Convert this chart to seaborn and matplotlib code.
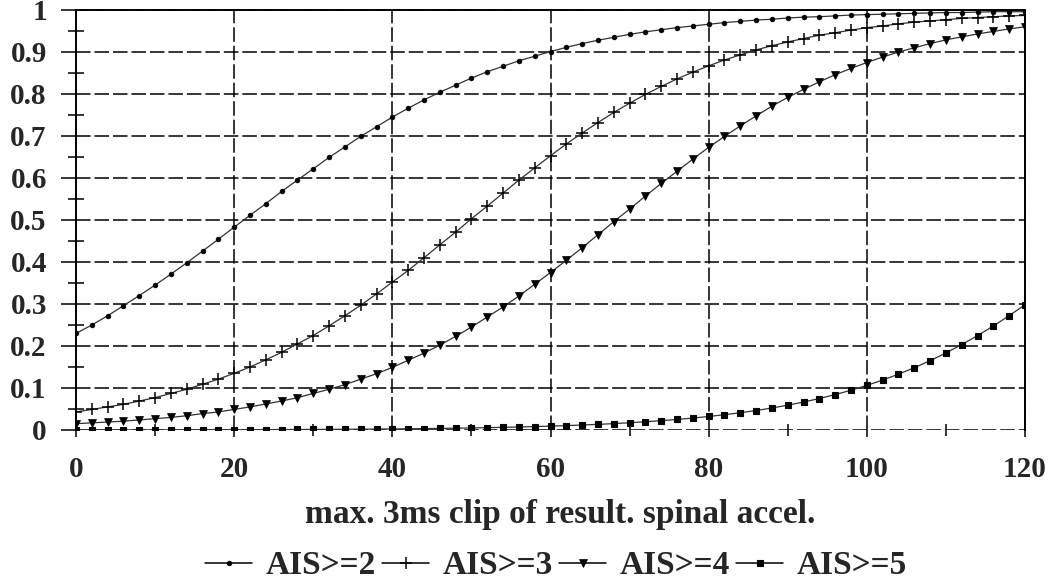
import matplotlib
matplotlib.use("Agg")
import matplotlib.pyplot as plt
import seaborn as sns
import pandas as pd
from matplotlib.ticker import MultipleLocator, FixedLocator
from matplotlib.lines import Line2D

# ---------------- data ----------------
accel = list(range(0, 121, 2))

ais2 = [0.230, 0.250, 0.272, 0.296, 0.320, 0.345, 0.371, 0.398, 0.426, 0.454,
        0.483, 0.511, 0.539, 0.568, 0.595, 0.622, 0.649, 0.674, 0.699, 0.722,
        0.745, 0.766, 0.786, 0.804, 0.821, 0.838, 0.853, 0.866, 0.879, 0.890,
        0.901, 0.911, 0.920, 0.928, 0.935, 0.942, 0.948, 0.953, 0.958, 0.962,
        0.966, 0.970, 0.973, 0.976, 0.978, 0.981, 0.983, 0.984, 0.986, 0.988,
        0.989, 0.990, 0.991, 0.992, 0.993, 0.994, 0.994, 0.995, 0.996, 0.996,
        0.996]

ais3 = [0.043, 0.049, 0.055, 0.061, 0.069, 0.077, 0.087, 0.097, 0.109, 0.121,
        0.135, 0.150, 0.167, 0.185, 0.205, 0.225, 0.248, 0.272, 0.297, 0.324,
        0.352, 0.380, 0.410, 0.441, 0.471, 0.503, 0.533, 0.564, 0.595, 0.624,
        0.653, 0.681, 0.707, 0.732, 0.756, 0.778, 0.799, 0.818, 0.836, 0.852,
        0.867, 0.881, 0.893, 0.905, 0.915, 0.924, 0.932, 0.940, 0.946, 0.952,
        0.958, 0.962, 0.967, 0.971, 0.974, 0.977, 0.980, 0.982, 0.984, 0.986,
        0.987]

ais4 = [0.015, 0.017, 0.019, 0.021, 0.024, 0.027, 0.030, 0.034, 0.039, 0.043,
        0.049, 0.055, 0.062, 0.069, 0.077, 0.087, 0.097, 0.108, 0.121, 0.134,
        0.149, 0.166, 0.183, 0.202, 0.223, 0.245, 0.269, 0.293, 0.319, 0.347,
        0.375, 0.404, 0.434, 0.465, 0.496, 0.526, 0.557, 0.587, 0.616, 0.645,
        0.673, 0.699, 0.724, 0.748, 0.771, 0.792, 0.811, 0.829, 0.846, 0.861,
        0.875, 0.888, 0.900, 0.910, 0.920, 0.929, 0.936, 0.943, 0.949, 0.955,
        0.960]

ais5 = [0.0002, 0.0002, 0.0003, 0.0003, 0.0003, 0.0004, 0.0004, 0.0005, 0.0006, 0.0007,
        0.0007, 0.0008, 0.0009, 0.0011, 0.0012, 0.0014, 0.0016, 0.0018, 0.0020, 0.0023,
        0.0026, 0.0029, 0.0033, 0.0038, 0.0043, 0.0049, 0.0056, 0.0063, 0.0072, 0.0081,
        0.0092, 0.0105, 0.0119, 0.0134, 0.0152, 0.0173, 0.0196, 0.0222, 0.0251, 0.0284,
        0.0322, 0.0364, 0.0411, 0.0464, 0.0524, 0.0591, 0.0666, 0.0750, 0.0843, 0.0947,
        0.1062, 0.1189, 0.1329, 0.1483, 0.1651, 0.1835, 0.2033, 0.2247, 0.2477, 0.2722,
        0.2982]

series_names = ["AIS>=2", "AIS>=3", "AIS>=4", "AIS>=5"]
x_ticks = [0, 20, 40, 60, 80, 100, 120]
y_ticks = [0, 0.1, 0.2, 0.3, 0.4, 0.5, 0.6, 0.7, 0.8, 0.9, 1.0]
y_tick_labels = ["0", "0.1", "0.2", "0.3", "0.4", "0.5", "0.6", "0.7", "0.8", "0.9", "1"]
x_label = "max. 3ms clip of result. spinal accel."

df = pd.DataFrame({"accel": accel * 4,
                   "p": ais2 + ais3 + ais4 + ais5,
                   "series": sum([[n] * len(accel) for n in series_names], [])})

# ---------------- style ----------------
sns.set_theme(style="white")
plt.rcParams["font.family"] = ["Liberation Serif", "DejaVu Serif"]
plt.rcParams["font.weight"] = "bold"

TICK_FS = 21
LABEL_FS = 24

W, H = 1049, 587
fig = plt.figure(figsize=(W / 100, H / 100), dpi=100)
ax = fig.add_axes([76 / W, 1 - 430 / H, 949 / W, 420 / H])

markers = {"AIS>=2": dict(marker="o", ms=3.4, mfc="black", mec="black", mew=0.5),
           "AIS>=3": dict(marker="+", ms=8, mfc="black", mec="black", mew=1.1),
           "AIS>=4": dict(marker="v", ms=5.5, mfc="black", mec="black", mew=0.5),
           "AIS>=5": dict(marker="s", ms=4.2, mfc="black", mec="black", mew=0.8)}

for name in series_names:
    sub = df[df["series"] == name]
    sns.lineplot(data=sub, x="accel", y="p", ax=ax, color="#333333", lw=0.9,
                 zorder=4, legend=False, **markers[name])

ax.set_xlim(0, 120)
ax.set_ylim(0, 1)
ax.xaxis.set_major_locator(FixedLocator(x_ticks))
ax.set_yticks(y_ticks)
ax.set_yticklabels(y_tick_labels)
ax.xaxis.set_minor_locator(MultipleLocator(10))
ax.yaxis.set_minor_locator(MultipleLocator(0.05))

dash = (0, (9.5, 2.6))
ax.grid(True, which="major", axis="both", color="black", lw=1.1, linestyle=dash, zorder=1)
ax.set_axisbelow(True)

for side in ["left", "top", "right"]:
    ax.spines[side].set_visible(True)
    ax.spines[side].set_color("black")
    ax.spines[side].set_linewidth(1.4)
ax.spines["bottom"].set_visible(False)

ax.tick_params(axis="y", which="major", direction="out", length=11, width=1.1,
               color="black", pad=10, labelsize=TICK_FS, left=True)
ax.tick_params(axis="y", which="minor", direction="inout", length=12, width=1.1,
               color="black", left=True)
ax.tick_params(axis="x", which="major", direction="out", length=5, width=1.1,
               color="black", pad=14, labelsize=TICK_FS, bottom=True)
ax.tick_params(axis="x", which="minor", direction="inout", length=9, width=1.1,
               color="black", bottom=True)
for lab in ax.get_xticklabels() + ax.get_yticklabels():
    lab.set_fontweight("bold")

ax.set_xlabel(x_label, fontsize=LABEL_FS, fontweight="bold", labelpad=11)
ax.xaxis.label.set_x((560 - 76) / 949)
ax.set_ylabel("")

handles = [Line2D([], [], color="black", lw=1.1, **markers[n]) for n in series_names]
fig.legend(handles, series_names, loc="center", bbox_to_anchor=(556 / W, 1 - 566 / H),
           ncol=4, frameon=False, handlelength=1.4, handletextpad=0.4,
           columnspacing=0.2, borderpad=0, borderaxespad=0,
           prop={"family": ["Liberation Serif"], "weight": "bold", "size": LABEL_FS})

fig.savefig("out.png", dpi=100)
